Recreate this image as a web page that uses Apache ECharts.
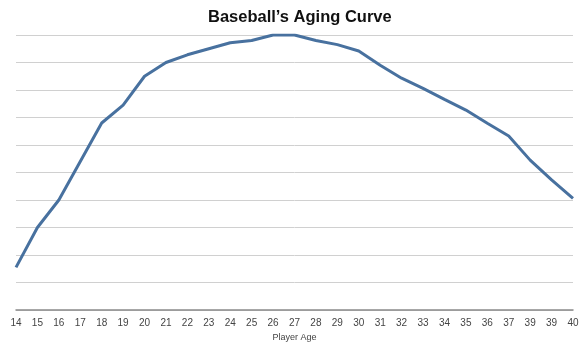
<!DOCTYPE html>
<html>
<head>
<meta charset="utf-8">
<script src="https://cdn.jsdelivr.net/npm/echarts@6/dist/echarts.min.js"></script>
<style>
  html, body { margin: 0; padding: 0; background: #fff; }
  #chart { width: 581px; height: 345px; }
</style>
</head>
<body>
<div id="chart"></div>
<script>
// x labels as printed in the original (38 shows as "39" there)
var ages = ['14','15','16','17','18','19','20','21','22','23','24','25','26','27',
            '28','29','30','31','32','33','34','35','36','37','39','39','40'];
var curve = [1.55, 3.0, 4.0, 5.4, 6.8, 7.45, 8.5, 9.0, 9.28, 9.5, 9.72, 9.8, 10.0, 10.0,
             9.8, 9.65, 9.42, 8.9, 8.43, 8.06, 7.66, 7.27, 6.79, 6.33, 5.45, 4.73, 4.06];

var myChart = echarts.init(document.getElementById('chart'));
var option = {
    animation: false,
    title: {
        text: "Baseball\u2019s Aging Curve",
        left: 203,
        top: 4,
        textStyle: {
            fontFamily: 'Liberation Sans',
            fontWeight: 'bold',
            fontSize: 16.5,
            color: '#111'
        }
    },
    grid: {
        left: 16,
        right: 8,
        top: 35,
        bottom: 35,
        outerBoundsMode: 'none'
    },
    xAxis: {
        type: 'category',
        data: ages,
        boundaryGap: false,
        name: 'Player Age',
        nameLocation: 'middle',
        nameGap: 22,
        nameTextStyle: {
            fontFamily: 'Liberation Sans',
            fontSize: 9,
            color: '#444'
        },
        axisTick: { show: false },
        axisLine: {
            lineStyle: { color: '#8a8a8a', width: 1.5 }
        },
        axisLabel: {
            interval: 0,
            margin: 8,
            fontFamily: 'Liberation Sans',
            fontSize: 10,
            color: '#444'
        }
    },
    yAxis: {
        type: 'value',
        min: 0,
        max: 10,
        interval: 1,
        axisLabel: { show: false },
        axisLine: { show: false },
        axisTick: { show: false },
        splitLine: {
            lineStyle: { color: '#d0d0d0', width: 1 }
        }
    },
    series: [{
        type: 'line',
        data: curve,
        symbol: 'none',
        lineStyle: { color: '#48719f', width: 3 }
    }]
};
myChart.setOption(option);
</script>
</body>
</html>
